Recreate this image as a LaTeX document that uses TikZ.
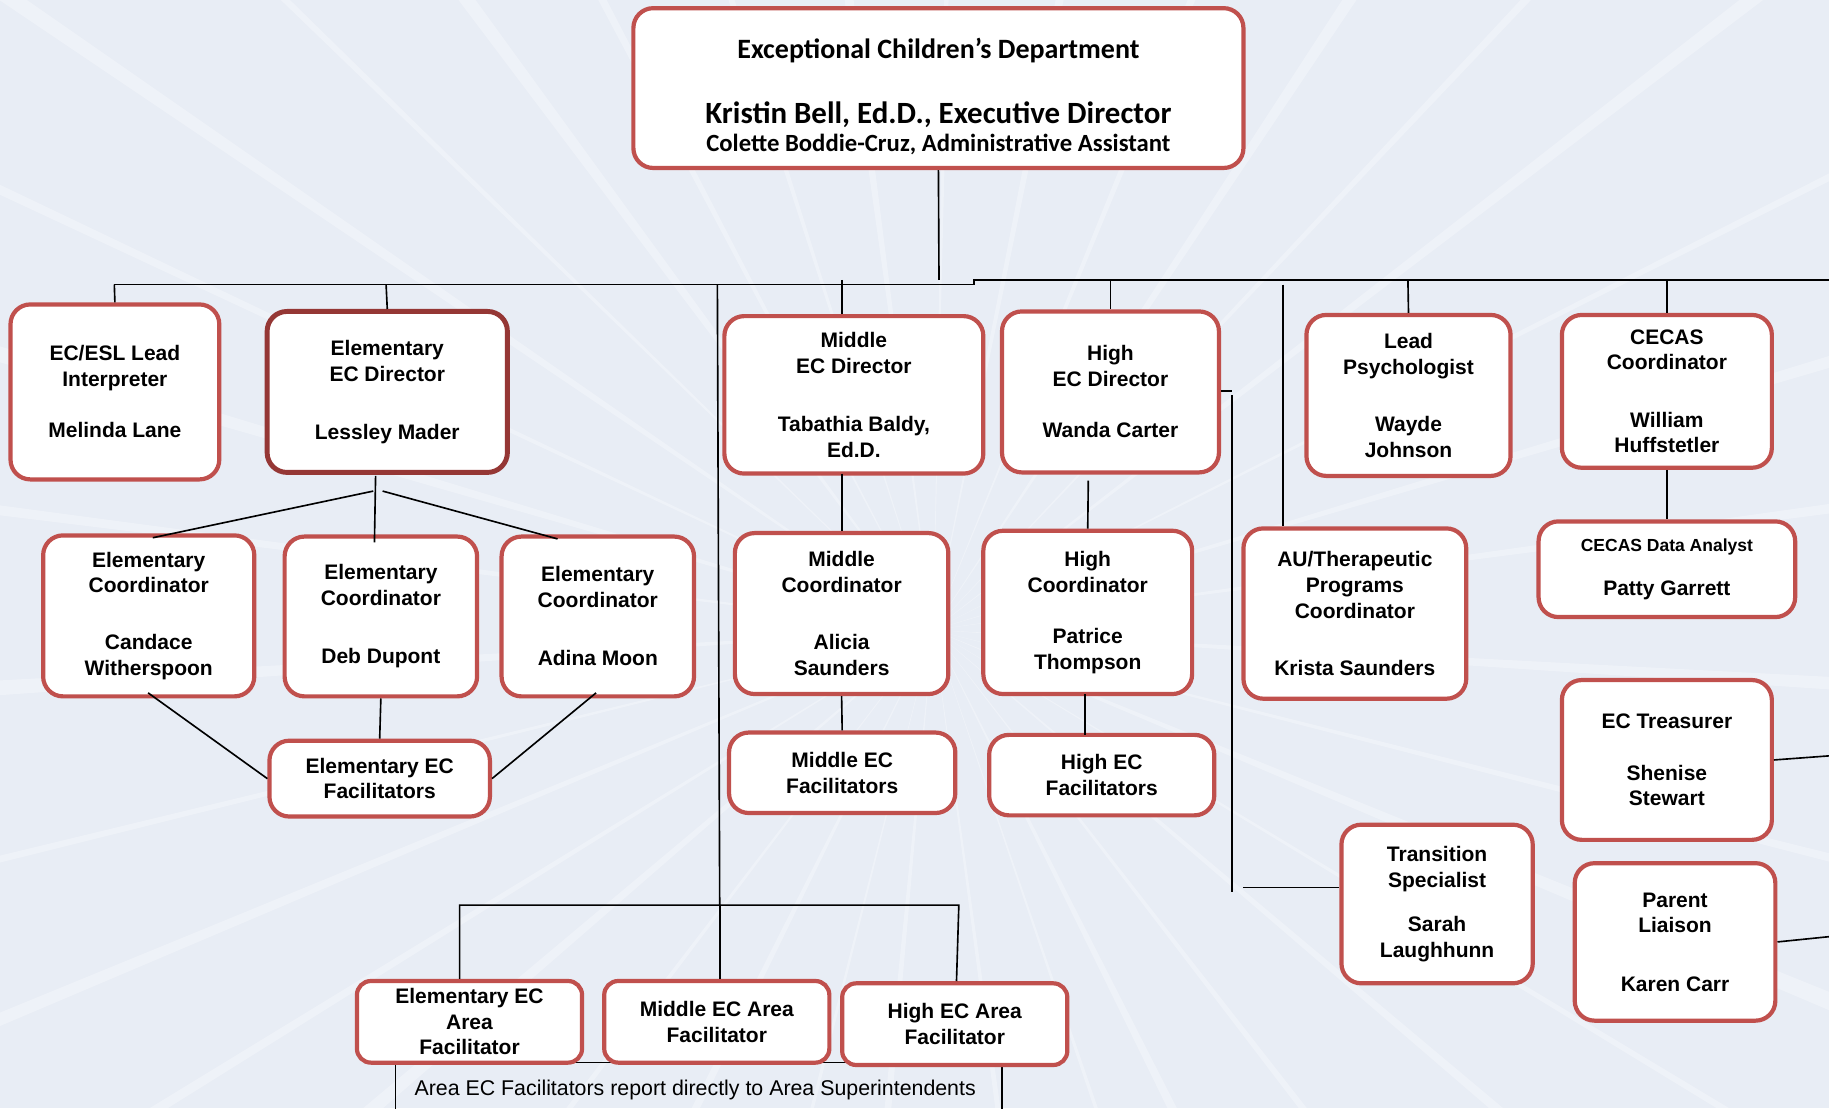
\documentclass[tikz,border=0pt]{standalone}
\usepackage{fontspec}
\setmainfont{Liberation Sans}
\newfontfamily\calfont{Carlito}
\definecolor{bg}{HTML}{E8EDF5}
\definecolor{boxred}{HTML}{C0504D}
\definecolor{darkred}{HTML}{953735}
\begin{document}
\begin{tikzpicture}[x=1pt,y=-1pt,
  box/.style={draw=boxred, line width=3.6pt, fill=white, rounded corners=17pt, inner sep=0pt, align=center,
    font=\bfseries\fontsize{18}{22}\selectfont},
  link/.style={draw=black, line width=1.4pt},
  notebox/.style={draw=black, line width=1.2pt}]
\fill[bg] (0,0) rectangle (1568,950);
\useasboundingbox (0,0) rectangle (1568,950);
% rays
\begin{scope}
\clip (0,0) rectangle (1568,950);
\foreach \a/\w in {3/0.8,14/0.5,22/1.0,31/0.4,40/0.7,52/0.6,63/0.9,71/0.4,82/0.6,95/0.8,104/0.4,116/0.8,127/0.5,139/1.0,148/0.6,157/0.7,166/0.4,176/0.9,187/0.6,196/0.9,205/0.5,214/0.8,224/0.4,233/1.0,242/0.6,252/0.5,262/0.8,271/0.4,281/0.7,292/0.6,303/0.9,313/0.5,322/0.8,333/0.4,343/0.7,352/0.6}
  \fill[white, opacity=0.3] (800,540) -- +(\a:1500) -- +(\a+\w:1500) -- cycle;
\end{scope}

% top box
\node[box, minimum width=523pt, minimum height=137pt] (top) at (804.5,75.5) {};
\node[anchor=base, font=\calfont\bfseries\fontsize{24}{28}\selectfont] (toptitle) at (804.5,50) {Exceptional Children’s Department};
\node[anchor=base, font=\calfont\bfseries\fontsize{26.5}{30}\selectfont] (topdir) at (804.5,106) {Kristin Bell, Ed.D., Executive Director};
\node[anchor=base, font=\calfont\bfseries\fontsize{21.2}{24}\selectfont] (topasst) at (804.5,130) {Colette Boddie-Cruz, Administrative Assistant};

% bus coordinates
\coordinate (topdown) at (805,240);
\coordinate (busL) at (98,244);
\coordinate (busStepA) at (835,244);
\coordinate (busStepB) at (835,240);
\coordinate (busR) at (1568,240);

% note box
\draw[notebox] (339,962) -- (339,911) -- (859,911) -- (859,962);
\node[anchor=base, font=\fontsize{18.3}{21}\selectfont] (note) at (596,939) {Area EC Facilitators report directly to Area Superintendents};

% connectors (drawn before boxes)
\draw[link] (top.south) -- (topdown);
\draw[link] (busL) -- (busStepA) -- (busStepB) -- (busR);
\coordinate (eledTop) at (331,244);
\coordinate (areaTop) at (615,244);
\coordinate (areaBot) at (617,776);
\coordinate (midTop) at (722,240);
\coordinate (highTop) at (952,240);
\coordinate (auTop) at (1100,244);
\coordinate (psyTop) at (1207,240);
\coordinate (cecTop) at (1429,240);

% row 1
\node[box, minimum width=179pt, minimum height=150pt] (ecesl) at (98.5,336) {EC/ESL Lead\\Interpreter\\[22pt]Melinda Lane};
\node[box, draw=darkred, line width=4.2pt, minimum width=206pt, minimum height=138pt] (eled) at (332,336) {Elementary\\EC Director\\[28pt]Lessley Mader};
\node[box, minimum width=222pt, minimum height=135pt] (mid) at (732,338.5) {Middle\\ EC Director\\[28pt]Tabathia Baldy,\\Ed.D.};
\node[box, minimum width=186pt, minimum height=138pt] (high) at (952,336) {High\\EC Director\\[22pt]Wanda Carter};
\node[box, minimum width=175pt, minimum height=138pt] (psy) at (1207.5,339) {Lead\\Psychologist\\[27pt]Wayde\\Johnson};
\node[box, minimum width=180pt, minimum height=131pt] (cec) at (1429,335.5) {CECAS\\Coordinator\\[27pt]William\\Huffstetler};
\node[box, minimum width=220pt, minimum height=82pt] (ana) at (1429,488) {{\fontsize{15}{18}\selectfont CECAS Data Analyst}\\[16pt]Patty Garrett};

% row 2
\node[box, minimum width=181pt, minimum height=138pt] (cand) at (127.5,528) {Elementary\\Coordinator\\[27pt]Candace\\Witherspoon};
\node[box, minimum width=165pt, minimum height=137pt] (deb) at (326.5,528.5) {Elementary\\Coordinator\\[28pt]Deb Dupont};
\node[box, minimum width=165pt, minimum height=137pt] (adina) at (512.5,528.5) {Elementary\\Coordinator\\[28pt]Adina Moon};
\node[box, minimum width=189pt, minimum height=65pt] (efac) at (325.5,667.5) {Elementary EC\\Facilitators};
\node[box, minimum width=183pt, minimum height=138pt] (mcoord) at (721.5,526) {Middle\\Coordinator\\[27pt]Alicia\\Saunders};
\node[box, minimum width=194pt, minimum height=69pt] (mfac) at (722,662.5) {Middle EC\\Facilitators};
\node[box, minimum width=179pt, minimum height=140pt] (hcoord) at (932.5,525) {High\\Coordinator\\[22pt]Patrice\\Thompson};
\node[box, minimum width=193pt, minimum height=69pt] (hfac) at (944.5,664.5) {High EC\\Facilitators};
\node[box, minimum width=191pt, minimum height=146pt] (au) at (1161.5,526) {AU/Therapeutic\\Programs\\Coordinator\\[27pt]Krista Saunders};
\node[box, minimum width=180pt, minimum height=137pt] (treas) at (1429,651.5) {EC Treasurer\\[22pt]Shenise\\Stewart};
\node[box, minimum width=164pt, minimum height=136pt] (trans) at (1232,775) {Transition\\Specialist\\[16pt]Sarah\\Laughhunn};
\node[box, minimum width=172pt, minimum height=135pt] (parent) at (1436,807.5) {Parent\\Liaison\\[28pt]Karen Carr};

% area facilitators
\node[box, rounded corners=12pt, minimum width=193pt, minimum height=70pt] (earea) at (402.5,876) {Elementary EC\\Area\\Facilitator};
\node[box, rounded corners=12pt, minimum width=193pt, minimum height=70pt] (marea) at (614.5,876) {Middle EC Area\\Facilitator};
\node[box, rounded corners=12pt, minimum width=193pt, minimum height=70pt] (harea) at (818.5,878) {High EC Area\\Facilitator};

% connectors to boxes
\draw[link] (busL) -- (ecesl.north);
\draw[link] (eledTop) -- (eled.north);
\draw[link] (areaTop) -- (areaBot);
\draw[link] (earea.north -| 394,0) -- (394,776) -- (822,776) -- (harea.north -| 820,0);
\draw[link] (areaBot) -- (marea.north -| 617,0);
\draw[link] (midTop) -- (midTop |- mid.north);
\draw[link] (highTop) -- (high.north);
\draw[link] (auTop) -- (auTop |- au.north);
\draw[link] (psyTop) -- (psy.north);
\draw[link] (cecTop) -- (cec.north);
\draw[link] (cec.south) -- (ana.north);
\coordinate (hsideA) at (1056,335);
\coordinate (hsideB) at (1056,339);
\coordinate (hsideC) at (1056,765);
\coordinate (transL) at (1066,761);
\draw[link] (high.east |- hsideA) -- (hsideA);
\draw[link] (hsideB) -- (hsideC);
\draw[link] (transL) -- (trans.west |- transL);
% elementary director fan
\coordinate (fanV) at (322,408);
\coordinate (fanL) at (320,421);
\coordinate (fanR) at (328,421);
\draw[link] (fanV) -- (321,465);
\draw[link] (fanL) -- (131,461);
\draw[link] (fanR) -- (478,462);
% coordinators to elementary facilitators
\draw[link] (127,594) -- (efac.west);
\draw[link] (deb.south) -- (efac.north);
\draw[link] (511,594) -- (efac.east);
% middle and high
\coordinate (midCol) at (722,406);
\draw[link] (midCol) -- (midCol |- mcoord.north);
\draw[link] (mcoord.south) -- (mfac.north);
\draw[link] (933,412) -- (hcoord.north);
\draw[link] (930,595) -- (930,630);
% right side stubs
\coordinate (treasR) at (1568,648);
\coordinate (parentR) at (1568,803);
\draw[link] (treas.east) -- (treasR);
\draw[link] (parent.east) -- (parentR);
\end{tikzpicture}
\end{document}
